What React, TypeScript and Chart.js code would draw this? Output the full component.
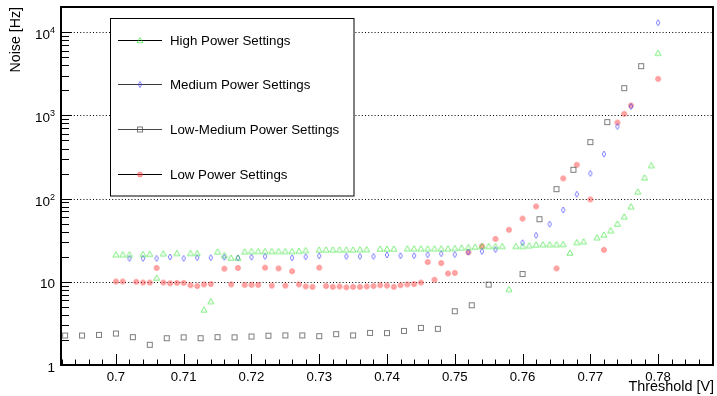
import React, { useEffect, useRef } from "react";
import { Chart, registerables } from "chart.js";

Chart.register(...registerables);

// ---------------- data ----------------
const highX = [0.700, 0.701, 0.702, 0.704, 0.705, 0.706, 0.707, 0.709, 0.711, 0.712, 0.713, 0.714, 0.715, 0.716, 0.717, 0.718, 0.719, 0.720, 0.721, 0.722, 0.723, 0.724, 0.725, 0.726, 0.727, 0.728, 0.730, 0.731, 0.732, 0.733, 0.734, 0.735, 0.736, 0.737, 0.739, 0.740, 0.741, 0.743, 0.744, 0.745, 0.746, 0.747, 0.748, 0.749, 0.750, 0.751, 0.752, 0.753, 0.754, 0.755, 0.756, 0.757, 0.758, 0.759, 0.760, 0.761, 0.762, 0.763, 0.764, 0.765, 0.766, 0.767, 0.768, 0.769, 0.771, 0.772, 0.773, 0.774, 0.775, 0.776, 0.777, 0.778, 0.779, 0.780];
const highY = [21.2, 21.2, 21.2, 21.4, 21.5, 11.1, 21.8, 22.0, 22.0, 22.0, 4.6, 5.8, 22.9, 20.8, 19.3, 19.3, 23.0, 23.2, 23.2, 23.2, 23.2, 23.2, 23.2, 23.2, 23.4, 23.8, 24.2, 24.2, 24.2, 24.2, 24.2, 24.2, 24.4, 24.4, 24.8, 24.8, 24.8, 25.0, 25.0, 25.0, 25.0, 25.0, 25.0, 25.0, 25.2, 25.6, 25.9, 26.2, 26.7, 26.7, 26.7, 26.7, 8.1, 26.7, 26.7, 27.2, 27.8, 28.0, 28.0, 28.0, 28.2, 22.2, 29.7, 30.4, 34.0, 36.6, 41.2, 49.6, 60.6, 80, 121, 178, 250, 5600];

const mediumX = [0.702, 0.704, 0.706, 0.708, 0.710, 0.712, 0.714, 0.716, 0.718, 0.720, 0.722, 0.726, 0.728, 0.730, 0.734, 0.736, 0.738, 0.740, 0.742, 0.744, 0.746, 0.748, 0.750, 0.752, 0.754, 0.756, 0.760, 0.762, 0.764, 0.766, 0.768, 0.770, 0.772, 0.774, 0.776, 0.780];
const mediumY = [19.1, 19.1, 19.1, 19.9, 19.1, 19.5, 19.5, 19.7, 19.4, 19.8, 20.2, 19.4, 20.0, 20.5, 20.2, 20.2, 20.2, 21.0, 20.6, 20.6, 21.2, 21.8, 21.3, 22.8, 23.2, 24.4, 29.5, 36.2, 49.3, 73, 113, 201, 343, 736, 1280, 13000];

const lowMedX = [0.6925, 0.695, 0.6975, 0.700, 0.7025, 0.705, 0.7075, 0.710, 0.7125, 0.715, 0.7175, 0.720, 0.7225, 0.725, 0.7275, 0.730, 0.7325, 0.735, 0.7375, 0.740, 0.7425, 0.745, 0.7475, 0.750, 0.7525, 0.755, 0.760, 0.7625, 0.765, 0.7675, 0.770, 0.7725, 0.775, 0.7775];
const lowMedY = [2.26, 2.26, 2.3, 2.39, 2.16, 1.75, 2.1, 2.15, 2.1, 2.16, 2.15, 2.2, 2.25, 2.27, 2.27, 2.22, 2.35, 2.27, 2.43, 2.42, 2.57, 2.79, 2.72, 4.43, 5.22, 9.25, 12.4, 56.5, 130, 222, 478, 831, 2128, 3908];

const lowX = [0.700, 0.701, 0.703, 0.704, 0.705, 0.706, 0.707, 0.708, 0.709, 0.710, 0.711, 0.712, 0.713, 0.714, 0.716, 0.717, 0.718, 0.719, 0.720, 0.721, 0.722, 0.723, 0.724, 0.725, 0.726, 0.727, 0.728, 0.729, 0.730, 0.731, 0.732, 0.733, 0.734, 0.735, 0.736, 0.737, 0.738, 0.739, 0.740, 0.741, 0.742, 0.743, 0.744, 0.745, 0.746, 0.747, 0.748, 0.749, 0.750, 0.752, 0.754, 0.756, 0.758, 0.760, 0.762, 0.765, 0.766, 0.768, 0.770, 0.772, 0.774, 0.775, 0.776, 0.780];
const lowY = [10.1, 10.1, 10.0, 9.8, 9.8, 14.7, 9.8, 9.6, 9.7, 9.7, 9.1, 8.9, 9.3, 9.4, 14.4, 9.3, 14.7, 9.2, 9.2, 9.2, 14.8, 9.0, 14.5, 9.0, 13.4, 9.3, 8.8, 8.7, 14.8, 8.9, 8.7, 8.8, 8.6, 8.7, 8.7, 8.8, 8.9, 9.1, 9.0, 8.7, 9.1, 9.3, 9.4, 9.8, 17.3, 10.6, 16.8, 12.6, 12.8, 22.6, 26.8, 32.8, 42.2, 57.5, 80.6, 14.5, 175, 255, 97.8, 24.2, 822, 1045, 1315, 2750];

const seriesNames = ["High Power Settings", "Medium Power Settings", "Low-Medium Power Settings", "Low Power Settings"];

const xTickValues = [0.70, 0.71, 0.72, 0.73, 0.74, 0.75, 0.76, 0.77, 0.78];
const xTickLabels = ["0.7", "0.71", "0.72", "0.73", "0.74", "0.75", "0.76", "0.77", "0.78"];
const yTickValues = [1, 10, 100, 1000, 10000];
const yTickBase = ["1", "10", "10", "10", "10"];
const yTickExp = ["", "", "2", "3", "4"];
const gridValues = [10, 100, 1000, 10000];

const xTitle = "Threshold [V]";
const yTitle = "Noise [Hz]";

// ---------------- styling ----------------
const FONT = '"Liberation Sans", Arial, Helvetica, sans-serif';
const X_MIN = 0.6919;
const X_MAX = 0.7881;
const Y_MIN = 1;
const Y_MAX = 20100;

type MarkerKind = "tri" | "dia" | "sq" | "circ";
const markerKinds: MarkerKind[] = ["tri", "dia", "sq", "circ"];
const legendLineColors = ["#000000", "#3a3a3a", "#4a4a4a", "#000000"];

function drawMarker(ctx: CanvasRenderingContext2D, kind: MarkerKind, x: number, y: number) {
  ctx.save();
  ctx.lineWidth = 1;
  ctx.setLineDash([]);
  if (kind === "tri") {
    ctx.strokeStyle = "rgba(40,225,40,0.6)";
    ctx.beginPath();
    ctx.moveTo(x, y - 3);
    ctx.lineTo(x + 3, y + 2.2);
    ctx.lineTo(x - 3, y + 2.2);
    ctx.closePath();
    ctx.stroke();
  } else if (kind === "dia") {
    ctx.strokeStyle = "rgba(60,60,255,0.65)";
    ctx.beginPath();
    ctx.moveTo(x, y - 3);
    ctx.lineTo(x + 1.8, y);
    ctx.lineTo(x, y + 3);
    ctx.lineTo(x - 1.8, y);
    ctx.closePath();
    ctx.stroke();
  } else if (kind === "sq") {
    ctx.strokeStyle = "rgba(70,70,70,0.7)";
    ctx.strokeRect(x - 2.5, y - 2.5, 5, 5);
  } else {
    ctx.fillStyle = "rgba(255,60,60,0.45)";
    ctx.strokeStyle = "rgba(255,60,60,0.4)";
    ctx.beginPath();
    ctx.arc(x, y, 2.5, 0, Math.PI * 2);
    ctx.fill();
    ctx.stroke();
  }
  ctx.restore();
}

function makeMarkerCanvas(kind: MarkerKind): HTMLCanvasElement {
  const c = document.createElement("canvas");
  c.width = 10;
  c.height = 10;
  const cx = c.getContext("2d")!;
  drawMarker(cx, kind, 5, 5);
  return c;
}

function pts(xs: number[], ys: number[]) {
  return xs.map((x, i) => ({ x, y: ys[i] }));
}

const rootPlugin = {
  id: "rootStyle",
  beforeDatasetsDraw(chart: any) {
    const { ctx, chartArea: a, scales } = chart;
    const ys = scales.y;
    ctx.save();
    ctx.strokeStyle = "#000";
    ctx.lineWidth = 1;
    ctx.setLineDash([1, 2.2]);
    for (const v of gridValues) {
      const py = Math.round(ys.getPixelForValue(v)) + 0.5;
      ctx.beginPath();
      ctx.moveTo(a.left, py);
      ctx.lineTo(a.right, py);
      ctx.stroke();
    }
    ctx.restore();
  },
  afterDatasetsDraw(chart: any) {
    const { ctx, chartArea: a, scales } = chart;
    const xs = scales.x;
    const ys = scales.y;
    ctx.save();
    ctx.setLineDash([]);
    ctx.strokeStyle = "#000";
    ctx.fillStyle = "#000";

    // x ticks (inside, from bottom)
    ctx.lineWidth = 1;
    const i0 = Math.ceil(X_MIN / 0.002 - 1e-6);
    const i1 = Math.floor(X_MAX / 0.002 + 1e-6);
    for (let i = i0; i <= i1; i++) {
      const v = i * 0.002;
      const px = Math.round(xs.getPixelForValue(v)) + 0.5;
      const len = i % 5 === 0 ? 11 : 5.5;
      ctx.beginPath();
      ctx.moveTo(px, a.bottom);
      ctx.lineTo(px, a.bottom - len);
      ctx.stroke();
    }
    // y ticks (inside, from left)
    for (let k = 0; k <= 4; k++) {
      for (let m = 1; m <= 9; m++) {
        const v = m * Math.pow(10, k);
        if (v > Y_MAX) continue;
        const py = Math.round(ys.getPixelForValue(v)) + 0.5;
        const len = m === 1 ? 11 : 8;
        ctx.beginPath();
        ctx.moveTo(a.left, py);
        ctx.lineTo(a.left + len, py);
        ctx.stroke();
      }
    }

    // frame
    ctx.lineWidth = 2;
    ctx.strokeRect(a.left, a.top, a.right - a.left, a.bottom - a.top);

    // x tick labels
    ctx.font = `13.2px ${FONT}`;
    ctx.textAlign = "center";
    ctx.textBaseline = "alphabetic";
    xTickValues.forEach((v, i) => {
      const px = xs.getPixelForValue(v);
      ctx.fillText(xTickLabels[i], px, 381);
    });

    // x title
    ctx.font = `14.4px ${FONT}`;
    ctx.textAlign = "right";
    ctx.fillText(xTitle, a.right + 1, 391);

    // y title
    ctx.save();
    ctx.translate(19.5, a.top);
    ctx.rotate(-Math.PI / 2);
    ctx.font = `14.2px ${FONT}`;
    ctx.textAlign = "right";
    ctx.textBaseline = "alphabetic";
    ctx.fillText(yTitle, 0, 0);
    ctx.restore();

    // y tick labels
    ctx.textAlign = "right";
    yTickValues.forEach((v, i) => {
      const py = ys.getPixelForValue(v);
      const right = 55;
      if (yTickExp[i]) {
        ctx.font = `9px ${FONT}`;
        const ew = ctx.measureText(yTickExp[i]).width;
        ctx.fillText(yTickExp[i], right, py + 1);
        ctx.font = `13.5px ${FONT}`;
        ctx.fillText(yTickBase[i], right - ew, py + 7);
      } else {
        ctx.font = `13.5px ${FONT}`;
        ctx.fillText(yTickBase[i], right, py + 6.5);
      }
    });

    // legend
    const lx = 110.5, ly = 18.5, lw = 243.5, lh = 177.5;
    ctx.fillStyle = "#fff";
    ctx.fillRect(lx, ly, lw, lh);
    ctx.lineWidth = 1;
    ctx.strokeStyle = "#000";
    ctx.strokeRect(lx, ly, lw, lh);
    const rows = [40, 84, 129, 174];
    ctx.font = `13.3px ${FONT}`;
    ctx.textAlign = "left";
    ctx.textBaseline = "middle";
    seriesNames.forEach((name, i) => {
      const ry = rows[i] + 0.5;
      ctx.strokeStyle = legendLineColors[i];
      ctx.lineWidth = 1;
      ctx.beginPath();
      ctx.moveTo(118, ry);
      ctx.lineTo(162, ry);
      ctx.stroke();
      drawMarker(ctx, markerKinds[i], 140, ry);
      ctx.fillStyle = "#000";
      ctx.fillText(name, 170, rows[i] + 1);
    });

    ctx.restore();
  },
};

export default function App() {
  const ref = useRef<HTMLCanvasElement | null>(null);

  useEffect(() => {
    if (!ref.current) return;
    const markers = markerKinds.map(makeMarkerCanvas);
    const seriesData = [
      pts(highX, highY),
      pts(mediumX, mediumY),
      pts(lowMedX, lowMedY),
      pts(lowX, lowY),
    ];
    const chart = new Chart(ref.current, {
      type: "scatter",
      data: {
        datasets: seriesNames.map((label, i) => ({
          label,
          data: seriesData[i],
          pointStyle: markers[i] as any,
          pointRadius: 3,
          pointHoverRadius: 3,
          showLine: false,
          order: i,
        })),
      },
      options: {
        animation: false,
        responsive: false,
        maintainAspectRatio: false,
        events: [],
        layout: { padding: { left: 61, top: 7, right: 3, bottom: 31 } },
        plugins: {
          legend: { display: false },
          tooltip: { enabled: false },
        },
        scales: {
          x: { type: "linear", min: X_MIN, max: X_MAX, display: false },
          y: { type: "logarithmic", min: Y_MIN, max: Y_MAX, display: false },
        },
      },
      plugins: [rootPlugin as any],
    });
    return () => chart.destroy();
  }, []);

  return (
    <div style={{ position: "absolute", left: 0, top: 0, width: 717, height: 396, background: "#fff" }}>
      <canvas ref={ref} width={717} height={396} style={{ display: "block", width: 717, height: 396 }} />
    </div>
  );
}
